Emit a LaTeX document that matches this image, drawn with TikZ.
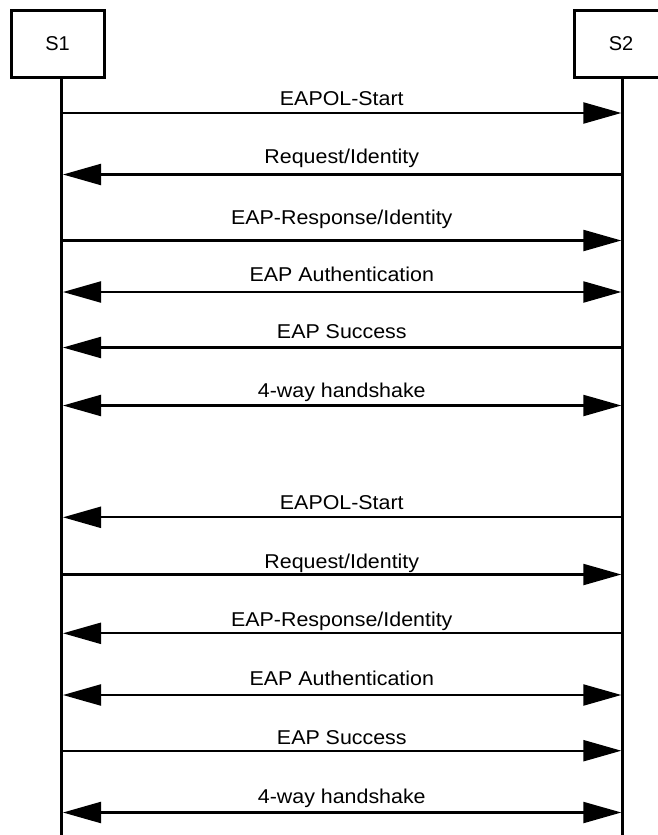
\documentclass[tikz,border=0pt]{standalone}
\usepackage{fontspec}
\setmainfont{Liberation Sans}
\usetikzlibrary{arrows.meta}
\begin{document}
\begin{tikzpicture}[x=1pt,y=1pt,
  actor/.style={draw,line width=3pt,minimum width=93pt,minimum height=67.7pt,inner sep=0pt,font=\fontsize{20}{22}\selectfont},
  life/.style={line width=3pt},
  msg/.style={line width=2.2pt},
  tipR/.style={-{Triangle[length=38pt,width=21pt]}},
  tipL/.style={{Triangle[length=38pt,width=21pt]}-},
  tipB/.style={{Triangle[length=38pt,width=21pt]}-{Triangle[length=38pt,width=21pt]}},
  lbl/.style={anchor=base,inner sep=0pt,font=\fontsize{20}{22}\selectfont}
]
\useasboundingbox (0,0) rectangle (657,-835);
\node[actor] (s1) at (57.5,-43.85) {S1};
\node[actor] (s2) at (621,-43.85) {S2};
\coordinate (s1top) at (61.5,-77.7);
\coordinate (s1bot) at (61.5,-836);
\coordinate (s2top) at (622.7,-77.7);
\coordinate (s2bot) at (622.7,-836);
\draw[life] (s1top) -- (s1bot);
\draw[life] (s2top) -- (s2bot);
% messages: y, label baseline
\foreach \i/\y/\b/\t/\txt in {
  1/113/105.7/R/EAPOL-Start,
  2/174.5/163.3/L/Request{/}Identity,
  3/240.5/224/R/EAP-Response{/}Identity,
  4/292/281.7/B/EAP Authentication,
  5/347.5/338.3/L/EAP Success,
  6/405.5/397.3/B/4-way handshake,
  7/517.3/509.3/L/EAPOL-Start,
  8/574.5/568.3/R/Request{/}Identity,
  9/633.3/626.7/L/EAP-Response{/}Identity,
  10/695/685.7/B/EAP Authentication,
  11/750.7/744.3/R/EAP Success,
  12/812.5/803.3/B/4-way handshake}{
  \coordinate (a\i) at (63,-\y);
  \coordinate (b\i) at (621.3,-\y);
  \node[lbl] (t\i) at (341.8,-\b) {\scalebox{1.07}[1]{\txt}};
  \draw[msg,tip\t] (a\i) -- (b\i);
}
\end{tikzpicture}
\end{document}
